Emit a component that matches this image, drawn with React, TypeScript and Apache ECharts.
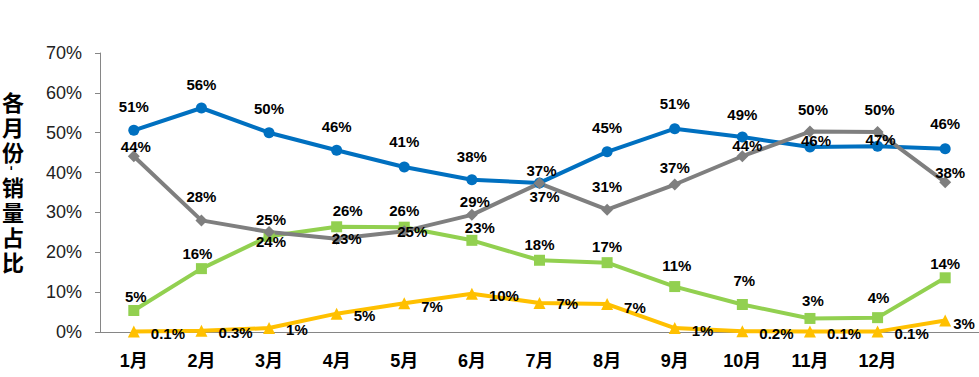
import React, { useEffect, useRef } from "react";
import * as echarts from "echarts";

const months = ["1月", "2月", "3月", "4月", "5月", "6月", "7月", "8月", "9月", "10月", "11月", "12月", ""];
const yTicks = [0, 10, 20, 30, 40, 50, 60, 70];
const titleText = "各月份-销量占比";

const blueValues = [50.6, 56.2, 50.0, 45.6, 41.4, 38.2, 37.4, 45.2, 51.0, 48.9, 46.4, 46.6, 46.0];
const grayValues = [44.1, 28.0, 25.1, 23.4, 25.3, 29.4, 37.3, 30.7, 37.0, 44.1, 50.3, 50.2, 37.6];
const greenValues = [5.4, 15.9, 24.0, 26.4, 26.3, 23.0, 18.0, 17.4, 11.4, 6.9, 3.4, 3.6, 13.6];
const yellowValues = [0.1, 0.3, 1.0, 4.6, 7.2, 9.6, 7.3, 7.0, 1.0, 0.2, 0.1, 0.1, 2.9];

// label placement (offset of label centre from point)
const blueLabelOffsets = [[0, -24], [0, -24], [0, -24], [0, -24], [0, -25], [0, -23], [2, -12], [0, -24], [0, -25], [0, -23], [6, -7], [3, -7], [0, -25]];
const grayLabelOffsets = [[2, -10], [0, -24], [2, -12], [10, 0], [8, 0], [3, -13], [5, 13], [0, -23], [0, -17], [5, -11], [3, -22], [2, -22], [5, -10]];
const greenLabelOffsets = [[2, -14], [-4, -15], [2, 5], [11, -16], [0, -17], [8, -13], [0, -16], [0, -16], [2, -21], [2, -24], [3, -18], [1, -20], [0, -14]];
const yellowLabelOffsets = [[0, 2], [0, 2], [0, 1], [0, 2], [0, 3], [0, 2], [0, 1], [0, 3], [0, 2], [0, 2], [0, 2], [0, 2], [-9, 3]];

const fmt = (v: number) => (v < 1 ? v.toFixed(1) : String(Math.round(v))) + "%";

const labelFont = {
  fontFamily: "'Liberation Sans', Arial, 'Noto Sans CJK SC', sans-serif",
  fontWeight: "bold" as const,
  fontSize: 15,
  color: "#000",
};

function buildData(values: number[], offsets: number[][], position: string, distance: number) {
  return values.map((v, i) => ({
    value: v,
    label: { position, distance, offset: offsets[i] },
  }));
}

function makeSeries(
  name: string,
  values: number[],
  offsets: number[][],
  color: string,
  symbol: string,
  symbolSize: number,
  position = "inside",
  distance = 5
) {
  return {
    name,
    type: "line",
    data: buildData(values, offsets, position, distance),
    symbol,
    symbolSize,
    showAllSymbol: true,
    lineStyle: { color, width: 4 },
    itemStyle: { color },
    label: {
      show: true,
      ...labelFont,
      formatter: (p: any) => fmt(p.value),
    },
  };
}

export default function App() {
  const ref = useRef<HTMLDivElement>(null);
  useEffect(() => {
    if (!ref.current) return;
    const chart = echarts.init(ref.current, null, { renderer: "svg" });

    const chars = titleText.split("");
    const titleEls: any[] = [];
    let y = 101;
    chars.forEach((c) => {
      if (c === "-") {
        titleEls.push({
          type: "text",
          x: 13,
          y: y - 8,
          rotation: -Math.PI / 2,
          style: {
            text: c,
            fontSize: 14,
            lineHeight: 8,
            fontWeight: "bold",
            fontFamily: "'Noto Sans CJK SC', sans-serif",
            fill: "#000",
            align: "center",
            verticalAlign: "middle",
          },
        });
        y += 10;
      } else {
        titleEls.push({
          type: "text",
          x: 13,
          y,
          style: {
            text: c,
            fontSize: 22,
            lineHeight: 22,
            fontWeight: "bold",
            fontFamily: "'Noto Sans CJK SC', sans-serif",
            fill: "#000",
            align: "center",
            verticalAlign: "middle",
          },
        });
        y += 25;
      }
    });

    chart.setOption({
      animation: false,
      backgroundColor: "#fff",
      grid: { left: 100, right: 0, top: 53, bottom: 45 },
      xAxis: {
        type: "category",
        data: months,
        boundaryGap: true,
        axisLine: { show: true, lineStyle: { color: "#868686", width: 1 } },
        axisTick: { show: false },
        axisLabel: {
          interval: 0,
          margin: 20,
          fontSize: 18,
          fontWeight: "bold",
          color: "#000",
          fontFamily: "'Liberation Sans', Arial, 'Noto Sans CJK SC', sans-serif",
        },
        splitLine: { show: false },
      },
      yAxis: {
        type: "value",
        min: yTicks[0],
        max: yTicks[yTicks.length - 1],
        interval: 10,
        axisLine: { show: true, lineStyle: { color: "#868686", width: 1 } },
        axisTick: { show: true, length: 5, lineStyle: { color: "#868686" } },
        splitLine: { show: false },
        axisLabel: {
          margin: 18,
          fontSize: 18,
          color: "#222",
          fontFamily: "'Liberation Sans', Arial, sans-serif",
          formatter: "{value}%",
        },
      },
      graphic: titleEls,
      series: [
        makeSeries("A", blueValues, blueLabelOffsets, "#0070C0", "circle", 11),
        makeSeries("C", greenValues, greenLabelOffsets, "#92D050", "rect", 11),
        makeSeries("D", yellowValues, yellowLabelOffsets, "#FFC000", "triangle", 12, "right", 11),
        makeSeries("B", grayValues, grayLabelOffsets, "#7F7F7F", "diamond", 12),
      ],
    });
    return () => chart.dispose();
  }, []);
  return (
    <div
      ref={ref}
      style={{ position: "absolute", left: 0, top: 0, width: 979, height: 377 }}
    />
  );
}
